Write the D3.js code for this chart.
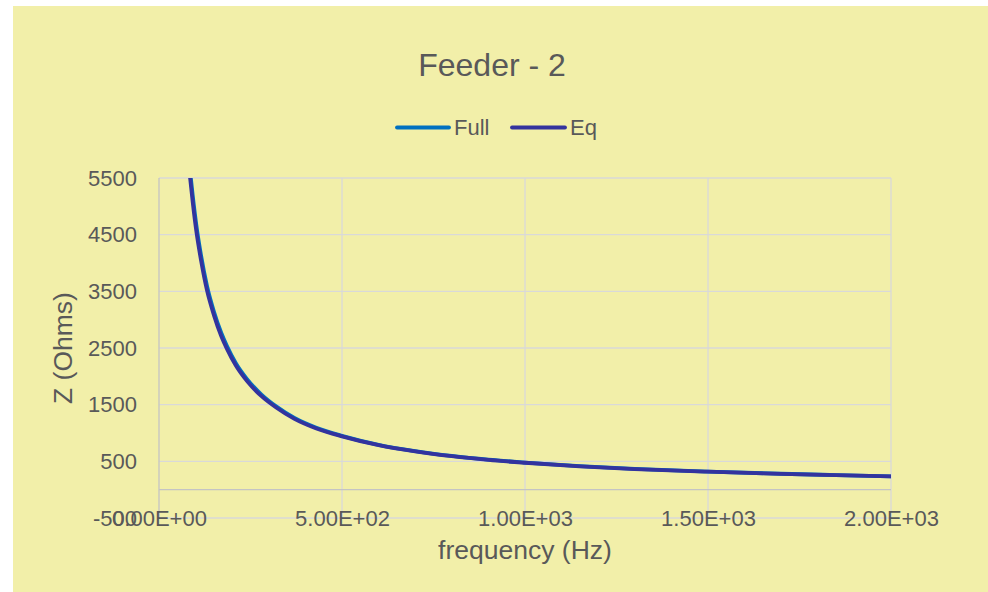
<!DOCTYPE html>
<html>
<head>
<meta charset="utf-8">
<script src="https://cdn.jsdelivr.net/npm/d3@7"></script>
<style>
  html, body { margin: 0; padding: 0; background: #ffffff; }
  svg { display: block; }
  text { font-family: "Liberation Sans", Arial, sans-serif; fill: #595959; }
</style>
</head>
<body>
<svg id="chart" width="988" height="592"></svg>
<script>
// ---- data ----
const chartTitle = "Feeder - 2";
const seriesNames = ["Full", "Eq"];
const frequency = [85, 92, 102, 115, 131, 150, 170, 186, 210, 240, 280, 320, 370, 430, 500, 600, 700, 800, 900, 1000, 1150, 1300, 1500, 1700, 1850, 2000];
const zFull = [5620, 5200, 4670, 4130, 3600, 3145, 2770, 2530, 2232, 1955, 1678, 1470, 1266, 1093, 950, 792, 681, 595, 529, 479, 415, 367, 319, 281, 258, 236];
const zEq   = [5500, 5080, 4560, 4040, 3520, 3080, 2710, 2480, 2190, 1920, 1650, 1450, 1250, 1080, 940, 785, 675, 590, 525, 475, 412, 364, 317, 279, 256, 234];
const xTicks = [0, 500, 1000, 1500, 2000];
const yTicks = [-500, 500, 1500, 2500, 3500, 4500, 5500];
const xTickLabels = ["0.00E+00", "5.00E+02", "1.00E+03", "1.50E+03", "2.00E+03"];
const xAxisTitle = "frequency (Hz)";
const yAxisTitle = "Z (Ohms)";

// ---- layout ----
const svg = d3.select("#chart");
const plot = { left: 159, right: 891, top: 178, bottom: 518 };
const colors = { Full: "#0070C0", Eq: "#33339E" };

svg.append("rect").attr("x", 13).attr("y", 6).attr("width", 975).attr("height", 586).attr("fill", "#F2EFA9");

const x = d3.scaleLinear().domain([0, 2000]).range([plot.left, plot.right]);
const y = d3.scaleLinear().domain([-500, 5500]).range([plot.bottom, plot.top]);

// gridlines
const grid = svg.append("g");
grid.selectAll("line.h").data(yTicks).join("line")
  .attr("x1", plot.left).attr("x2", plot.right)
  .attr("y1", d => y(d)).attr("y2", d => y(d))
  .attr("stroke", "#D9D9D9").attr("stroke-width", 1.3);
grid.selectAll("line.v").data(xTicks.slice(1)).join("line")
  .attr("x1", d => x(d)).attr("x2", d => x(d))
  .attr("y1", plot.top).attr("y2", plot.bottom)
  .attr("stroke", "#D9D9D9").attr("stroke-width", 1.3);

// axis lines (y axis at x=0, x axis at y=0)
svg.append("line").attr("x1", x(0)).attr("x2", x(0)).attr("y1", plot.top).attr("y2", plot.bottom)
  .attr("stroke", "#C4C4C4").attr("stroke-width", 1.3);
svg.append("line").attr("x1", plot.left).attr("x2", plot.right).attr("y1", y(0)).attr("y2", y(0))
  .attr("stroke", "#C4C4C4").attr("stroke-width", 1.3);

// y tick labels via d3 axis
const yAxis = d3.axisLeft(y).tickValues(yTicks).tickSize(0).tickPadding(22).tickFormat(d => String(d));
const gy = svg.append("g").attr("transform", `translate(${plot.left},0)`).call(yAxis);
gy.select(".domain").remove();
gy.selectAll("text").attr("font-size", 22).attr("fill", "#595959")
  .attr("font-family", "Liberation Sans, Arial, sans-serif");

// x tick labels via d3 axis, placed at the bottom of plot
const xAxis = d3.axisBottom(x).tickValues(xTicks).tickSize(0).tickPadding(-8)
  .tickFormat((d, i) => xTickLabels[i]);
const gx = svg.append("g").attr("transform", `translate(0,${plot.bottom})`).call(xAxis);
gx.select(".domain").remove();
gx.selectAll("text").attr("font-size", 22).attr("fill", "#595959")
  .attr("font-family", "Liberation Sans, Arial, sans-serif");

// clip
svg.append("clipPath").attr("id", "clip").append("rect")
  .attr("x", plot.left).attr("y", plot.top).attr("width", plot.right - plot.left).attr("height", plot.bottom - plot.top);

const line = d3.line().x(d => x(d[0])).y(d => y(d[1])).curve(d3.curveMonotoneX);
const series = [
  { name: "Full", values: frequency.map((f, i) => [f, zFull[i]]) },
  { name: "Eq", values: frequency.map((f, i) => [f, zEq[i]]) }
];
svg.append("g").attr("clip-path", "url(#clip)").selectAll("path").data(series).join("path")
  .attr("d", d => line(d.values))
  .attr("fill", "none")
  .attr("stroke", d => colors[d.name])
  .attr("stroke-width", 3.8)
  .attr("stroke-linecap", "round")
  .attr("stroke-linejoin", "round");

// title
svg.append("text").attr("x", 492).attr("y", 76).attr("text-anchor", "middle")
  .attr("font-size", 32).text(chartTitle);

// legend
const legendItems = [
  { name: seriesNames[0], x1: 397, x2: 449, tx: 454 },
  { name: seriesNames[1], x1: 512, x2: 565, tx: 570 }
];
const lg = svg.append("g");
legendItems.forEach(it => {
  lg.append("line").attr("x1", it.x1).attr("x2", it.x2).attr("y1", 127.5).attr("y2", 127.5)
    .attr("stroke", colors[it.name]).attr("stroke-width", 3.8).attr("stroke-linecap", "round");
  lg.append("text").attr("x", it.tx).attr("y", 135).attr("font-size", 22).text(it.name);
});

// axis titles
svg.append("text").attr("x", x(1000)).attr("y", 559).attr("text-anchor", "middle")
  .attr("font-size", 26.5).text(xAxisTitle);
svg.append("text").attr("transform", `translate(72,${(plot.top + plot.bottom) / 2}) rotate(-90)`)
  .attr("text-anchor", "middle").attr("font-size", 26.5).text(yAxisTitle);
</script>
</body>
</html>
